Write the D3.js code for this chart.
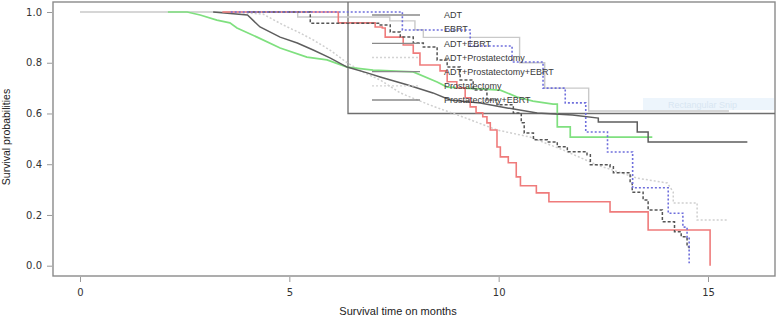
<!DOCTYPE html>
<html>
<head>
<meta charset="utf-8">
<script src="https://cdn.jsdelivr.net/npm/d3@7"></script>
<style>
html,body{margin:0;padding:0;background:#fff;}
svg{display:block;}
</style>
</head>
<body>
<svg id="chart" width="777" height="317"></svg>
<script>
// ---------- data ----------
const xTicks = [0, 5, 10, 15];
const yTicks = [0.0, 0.2, 0.4, 0.6, 0.8, 1.0];
const legendLabels = ["ADT", "EBRT", "ADT+EBRT", "ADT+Prostatectomy", "ADT+Prostatectomy+EBRT", "Prostatectomy", "Prostatectomy+EBRT"];

// light gray solid (step)
const adtTime = [0, 5.2, 7.4, 8.0, 8.2, 10.5, 11.1, 12.15, 15.5];
const adtSurv = [1.0, 0.98, 0.965, 0.93, 0.90, 0.80, 0.70, 0.61, 0.61];

// blue dotted (step)
const ebrtTime = [3.6, 7.70, 9.32, 10.32, 11.06, 11.59, 12.08, 12.60, 13.20, 14.05, 14.40, 14.50, 14.55];
const ebrtSurv = [1.0, 0.929, 0.866, 0.803, 0.700, 0.642, 0.527, 0.448, 0.307, 0.207, 0.152, 0.112, 0.01];

// dark gray dotted (step)
const adtEbrtTime = [4.0, 5.5, 7.17, 7.41, 7.65, 7.96, 8.20, 8.53, 8.77, 9.08, 9.39, 9.72, 9.96, 10.35, 10.54, 10.61, 10.83, 11.16, 11.40, 11.64, 12.11, 12.19, 12.66, 12.74, 13.14, 13.19, 13.45, 13.57, 13.91, 14.20, 14.36, 14.50, 14.55];
const adtEbrtSurv = [1.0, 0.956, 0.949, 0.921, 0.901, 0.878, 0.862, 0.811, 0.783, 0.732, 0.693, 0.653, 0.634, 0.602, 0.563, 0.523, 0.496, 0.488, 0.469, 0.449, 0.437, 0.398, 0.390, 0.366, 0.327, 0.290, 0.259, 0.220, 0.173, 0.134, 0.114, 0.075, 0.06];

// light gray dotted (many small steps)
const adtProTime = [3.60, 4.37, 4.85, 5.26, 5.57, 5.97, 6.38, 6.76, 7.17, 7.65, 8.36, 9.15, 9.96, 10.75, 11.54, 12.35, 13.31, 14.03, 14.17, 14.17, 14.74, 14.74, 15.46];
const adtProSurv = [1.0, 0.992, 0.949, 0.917, 0.890, 0.850, 0.800, 0.763, 0.732, 0.681, 0.633, 0.586, 0.535, 0.507, 0.456, 0.397, 0.345, 0.326, 0.290, 0.247, 0.247, 0.18, 0.18];

// green solid (many small steps)
const adtProEbrtTime = [2.10, 2.56, 2.87, 3.27, 3.58, 3.75, 4.23, 4.78, 5.42, 5.90, 6.38, 7.00, 7.96, 8.53, 8.77, 10.04, 10.44, 10.82, 11.30, 11.40, 11.40, 11.71, 11.71, 13.67];
const adtProEbrtSurv = [1.0, 1.0, 0.988, 0.968, 0.957, 0.937, 0.901, 0.858, 0.822, 0.811, 0.783, 0.771, 0.764, 0.724, 0.704, 0.692, 0.665, 0.649, 0.637, 0.637, 0.547, 0.547, 0.507, 0.507];

// red solid (step)
const proTime = [3.4, 6.17, 7.05, 7.22, 7.29, 7.72, 7.96, 8.12, 8.60, 8.77, 9.00, 9.20, 9.32, 9.46, 9.62, 9.72, 9.80, 9.96, 10.04, 10.23, 10.42, 10.52, 10.90, 11.20, 12.66, 13.57, 15.05];
const proSurv = [1.0, 0.957, 0.941, 0.937, 0.901, 0.870, 0.838, 0.791, 0.768, 0.725, 0.701, 0.662, 0.626, 0.603, 0.587, 0.563, 0.535, 0.468, 0.429, 0.406, 0.350, 0.315, 0.287, 0.252, 0.212, 0.141, 0.0];

// dark gray solid (many small steps)
const proEbrtTime = [3.18, 4.00, 4.30, 4.78, 5.19, 5.57, 5.97, 6.38, 6.86, 7.17, 7.81, 8.43, 8.84, 9.56, 10.20, 10.92, 11.76, 12.38, 12.38, 13.31, 13.31, 13.57, 13.57, 15.94];
const proEbrtSurv = [1.0, 0.988, 0.941, 0.901, 0.878, 0.850, 0.819, 0.783, 0.760, 0.744, 0.713, 0.681, 0.653, 0.641, 0.622, 0.602, 0.594, 0.582, 0.566, 0.566, 0.527, 0.527, 0.488, 0.488];

// ---------- drawing ----------
const svg = d3.select("#chart");
const x = d3.scaleLinear().domain([0, 15]).range([80, 708]);
const y = d3.scaleLinear().domain([0, 1]).range([265.7, 12]);

const frame = {left: 53, top: 2, right: 775, bottom: 276};

// y axis ticks + labels
const yAxis = d3.axisLeft(y).tickValues(yTicks).tickFormat(d3.format(".1f")).tickSize(5).tickPadding(5);
const gy = svg.append("g").attr("transform", `translate(${frame.left - 1},0)`).call(yAxis);
gy.select(".domain").remove();
gy.selectAll("line").attr("stroke", "#999");
gy.selectAll("text").attr("font-family", "DejaVu Sans, sans-serif").attr("font-size", 10).attr("fill", "#333");

// x axis ticks + labels
const xAxis = d3.axisBottom(x).tickValues(xTicks).tickSize(5).tickPadding(7);
const gx = svg.append("g").attr("transform", `translate(0,${frame.bottom + 1})`).call(xAxis);
gx.select(".domain").remove();
gx.selectAll("line").attr("stroke", "#999");
gx.selectAll("text").attr("font-family", "DejaVu Sans, sans-serif").attr("font-size", 10).attr("fill", "#333");

// frame
svg.append("rect")
  .attr("x", frame.left).attr("y", frame.top)
  .attr("width", frame.right - frame.left).attr("height", frame.bottom - frame.top)
  .attr("fill", "none").attr("stroke", "#8a8a8a").attr("stroke-width", 1.4);

// faint snip artifact
svg.append("rect").attr("x", 643).attr("y", 98).attr("width", 131).attr("height", 12)
  .attr("fill", "#edf5fc");
svg.append("text").attr("x", 668).attr("y", 107.5).text("Rectangular Snip")
  .attr("font-family", "Liberation Sans, Arial, sans-serif").attr("font-size", 9).attr("fill", "#d8e6f2");

// legend box (from 6.4 months, 1.0 down to 0.6)
const legendLeft = 348;
svg.append("path")
  .attr("d", `M${legendLeft},${frame.top} V${y(0.6)} H${frame.right}`)
  .attr("fill", "none").attr("stroke", "#6e6e6e").attr("stroke-width", 1.3);

// series
const series = [
  {time: adtTime, surv: adtSurv, color: "#c9c9c9", dash: null, w: 1.4, curve: d3.curveStepAfter},
  {time: adtProTime, surv: adtProSurv, color: "#cfcfcf", dash: "2,2", w: 1.5, curve: d3.curveLinear},
  {time: adtProEbrtTime, surv: adtProEbrtSurv, color: "#7fe07f", dash: null, w: 1.7, curve: d3.curveLinear},
  {time: proEbrtTime, surv: proEbrtSurv, color: "#5e5e5e", dash: null, w: 1.5, curve: d3.curveLinear},
  {time: proTime, surv: proSurv, color: "#ef7b7b", dash: null, w: 1.6, curve: d3.curveStepAfter},
  {time: adtEbrtTime, surv: adtEbrtSurv, color: "#555", dash: "3,2", w: 1.5, curve: d3.curveStepAfter},
  {time: ebrtTime, surv: ebrtSurv, color: "#6f6fdc", dash: "2,2", w: 1.6, curve: d3.curveStepAfter}
];

series.forEach(s => {
  const pts = s.time.map((t, i) => [t, s.surv[i]]);
  const line = d3.line().x(d => x(d[0])).y(d => y(d[1])).curve(s.curve);
  svg.append("path").datum(pts)
    .attr("d", line)
    .attr("fill", "none")
    .attr("stroke", s.color)
    .attr("stroke-width", s.w)
    .attr("stroke-dasharray", s.dash);
});

// legend entries
const legendStyles = [
  {color: "#8a8a8a", dash: null},
  null,
  {color: "#8a8a8a", dash: null},
  {color: "#d4d4d4", dash: "2,2"},
  {color: "#8a8a8a", dash: null},
  {color: "#d4d4d4", dash: "2,2"},
  {color: "#8a8a8a", dash: null}
];
const rowY = d3.scaleLinear().domain([0, 6]).range([15, 100]);
legendLabels.forEach((lab, i) => {
  const st = legendStyles[i];
  if (st) {
    svg.append("line").attr("x1", 372).attr("x2", 420).attr("y1", rowY(i)).attr("y2", rowY(i))
      .attr("stroke", st.color).attr("stroke-width", 1.3).attr("stroke-dasharray", st.dash);
  }
  svg.append("text").attr("x", 444).attr("y", rowY(i) + 3.3).text(lab)
    .attr("font-family", "Liberation Sans, Arial, sans-serif").attr("font-size", 9).attr("fill", "#3a3a3a");
});

// axis titles
svg.append("text").attr("x", 398).attr("y", 315).attr("text-anchor", "middle")
  .text("Survival time on months")
  .attr("font-family", "Liberation Sans, Arial, sans-serif").attr("font-size", 11).attr("fill", "#222");
svg.append("text").attr("transform", "translate(10,137) rotate(-90)").attr("text-anchor", "middle")
  .text("Survival probabilities")
  .attr("font-family", "Liberation Sans, Arial, sans-serif").attr("font-size", 10.5).attr("fill", "#222");
</script>
</body>
</html>
